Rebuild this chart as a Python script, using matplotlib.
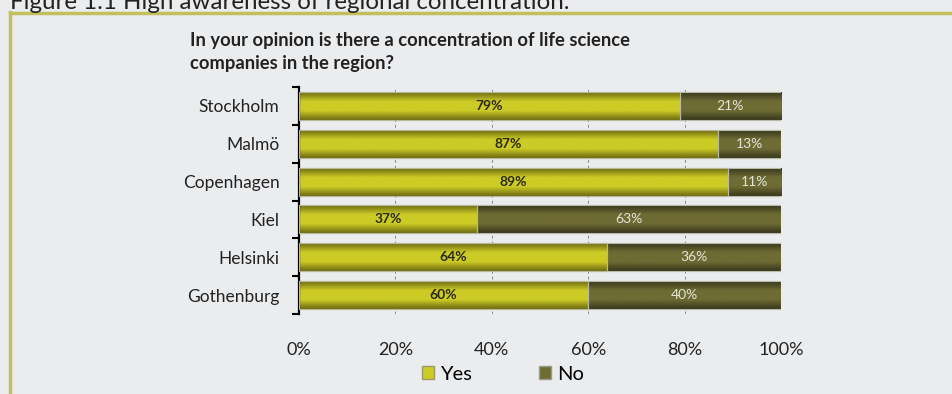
import numpy as np
import matplotlib
matplotlib.use("Agg")
import matplotlib.pyplot as plt
from matplotlib.colors import LinearSegmentedColormap
from matplotlib.lines import Line2D
from matplotlib.patches import Rectangle

plt.rcParams['font.family'] = ['Lato', 'DejaVu Sans']

regions = ["Stockholm", "Malmö", "Copenhagen", "Kiel", "Helsinki", "Gothenburg"]
yes_pct = [79, 87, 89, 37, 64, 60]
no_pct = [21, 13, 11, 63, 36, 40]
x_ticks = [0, 20, 40, 60, 80, 100]
x_tick_labels = ["0%", "20%", "40%", "60%", "80%", "100%"]
series_names = ["Yes", "No"]

BG = "#EBECEE"
FRAME = "#C2BF5E"
YES_MID, YES_EDGE = "#CDCB26", "#6E6C12"
NO_MID, NO_EDGE = "#6E6C34", "#38371C"

fig = plt.figure(figsize=(9.52, 3.94), dpi=100, facecolor=BG)
ax = fig.add_axes([299 / 952, 1 - 314 / 394, 482 / 952, 227 / 394])
ax.set_facecolor(BG)

ypos = np.arange(len(regions))
bar_h = 0.74
yes_bars = ax.barh(ypos, yes_pct, height=bar_h, color=YES_MID, edgecolor="#B8B89A",
                   linewidth=0.8, zorder=2)
no_bars = ax.barh(ypos, no_pct, left=yes_pct, height=bar_h, color=NO_MID,
                  edgecolor="#B8B8A8", linewidth=0.8, zorder=2)


def shade(bars, mid, edge):
    cmap = LinearSegmentedColormap.from_list("band", [edge, mid, mid, edge])
    grad = np.linspace(0, 1, 64).reshape(-1, 1)
    for b in bars:
        x0, y0 = b.get_x(), b.get_y()
        w, h = b.get_width(), b.get_height()
        im = ax.imshow(grad, cmap=cmap, aspect="auto", extent=(x0, x0 + w, y0, y0 + h),
                       origin="lower", zorder=2.5, interpolation="bicubic")
        clip = Rectangle((x0, y0), w, h, transform=ax.transData)
        im.set_clip_path(clip)
        ax.add_patch(Rectangle((x0, y0), w, h, fill=False, edgecolor=b.get_edgecolor(),
                               linewidth=0.8, zorder=3))


shade(yes_bars, YES_MID, YES_EDGE)
shade(no_bars, NO_MID, NO_EDGE)

for i in range(len(regions)):
    ax.text(yes_pct[i] / 2, ypos[i], f"{yes_pct[i]}%", ha="center", va="center",
            fontsize=10, fontweight="bold", color="#2A2A14", zorder=4)
    ax.text(yes_pct[i] + no_pct[i] / 2, ypos[i], f"{no_pct[i]}%", ha="center",
            va="center", fontsize=10, color="#E4E4D8", zorder=4)

ax.set_xlim(0, 100)
ax.set_ylim(len(regions) - 0.5, -0.5)
ax.set_xticks(x_ticks)
ax.set_xticklabels(x_tick_labels, fontsize=13, color="#222222")
ax.tick_params(axis="x", length=0, pad=20)
ax.set_yticks(ypos)
ax.set_yticklabels(regions, fontsize=12.5, color="#222222")
ax.set_yticks(np.arange(-0.5, len(regions)), minor=True)
ax.tick_params(axis="y", which="major", length=0, pad=14)
ax.tick_params(axis="y", which="minor", length=5, width=1.5, color="black")
ax.grid(axis="x", linestyle=(0, (3, 3)), color="#888888", linewidth=0.7, zorder=1)
ax.set_axisbelow(True)
for side in ["top", "right", "bottom"]:
    ax.spines[side].set_visible(False)
ax.spines["left"].set_linewidth(1.6)
ax.spines["left"].set_color("black")

# legend
handles = [Rectangle((0, 0), 1, 1, facecolor=YES_MID, edgecolor="#9A9A6A"),
           Rectangle((0, 0), 1, 1, facecolor=NO_MID, edgecolor="#9A9A8A")]
fig.legend(handles, series_names, loc="center", bbox_to_anchor=(503 / 952, 1 - 374 / 394),
           ncol=2, frameon=False, fontsize=14.5, handlelength=0.6, handleheight=0.6,
           handletextpad=0.3, columnspacing=3.3)

# chart title
fig.text(190 / 952, 1 - 46 / 394,
         "In your opinion is there a concentration of life science",
         fontsize=13.2, fontweight="bold", color="#222222", ha="left", va="baseline")
fig.text(190 / 952, 1 - 69 / 394, "companies in the region?",
         fontsize=13.2, fontweight="bold", color="#222222", ha="left", va="baseline")

# figure caption and frame
fig.text(10 / 952, 1 - 9 / 394, "Figure 1.1 High awareness of regional concentration.",
         fontsize=17.4, color="#222222", ha="left", va="baseline")
fig.add_artist(Line2D([10 / 952, 1], [1 - 13 / 394, 1 - 13 / 394], color=FRAME,
                      linewidth=2.5, transform=fig.transFigure))
fig.add_artist(Line2D([10 / 952, 10 / 952], [1 - 12 / 394, 0], color=FRAME,
                      linewidth=2.5, transform=fig.transFigure))

fig.savefig("out.png", dpi=100, facecolor=BG)
